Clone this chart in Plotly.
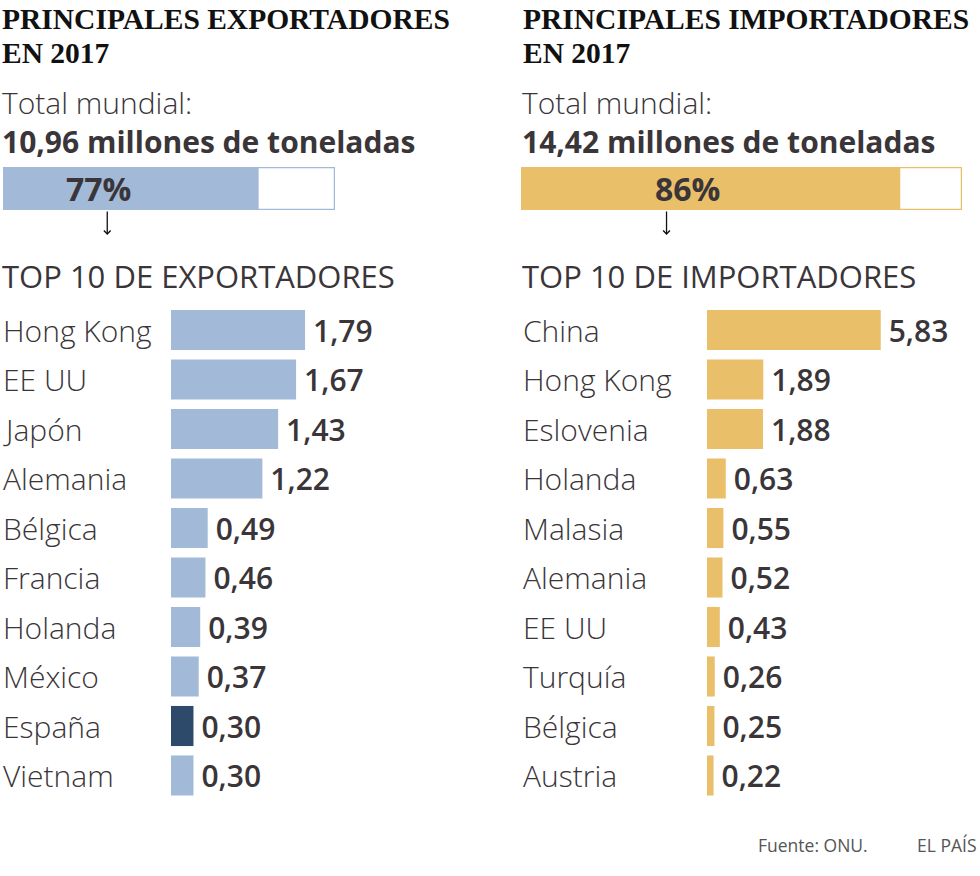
import plotly.graph_objects as go

# ---- data ----
exp_countries = ["Hong Kong", "EE UU", "Japón", "Alemania", "Bélgica", "Francia",
                 "Holanda", "México", "España", "Vietnam"]
exp_values = [1.79, 1.67, 1.43, 1.22, 0.49, 0.46, 0.39, 0.37, 0.30, 0.30]
imp_countries = ["China", "Hong Kong", "Eslovenia", "Holanda", "Malasia", "Alemania",
                 "EE UU", "Turquía", "Bélgica", "Austria"]
imp_values = [5.83, 1.89, 1.88, 0.63, 0.55, 0.52, 0.43, 0.26, 0.25, 0.22]
exp_share = 77
imp_share = 86
exp_total = "10,96"
imp_total = "14,42"

BLUE = "#a2bad8"
NAVY = "#2e4a6b"
GOLD = "#e9bf6a"
TXT = "#3a3539"
SANS = "Open Sans"
SERIF = "Liberation Serif"
W, H = 980, 876

def px_x(p):
    return p / W

def px_y(p):
    return 1 - p / H

fig = go.Figure()

exp_colors = [NAVY if c == "España" else BLUE for c in exp_countries]

fig.add_trace(go.Bar(
    x=exp_values, y=exp_countries, orientation="h",
    marker=dict(color=exp_colors, line=dict(width=0)),
    width=0.81, texttemplate="\u2009%{x:.2f}",
    textposition="outside", constraintext="none", cliponaxis=False,
    textfont=dict(family=SANS, size=30, color=TXT, weight=600),
    xaxis="x", yaxis="y", hoverinfo="skip"))

fig.add_trace(go.Bar(
    x=imp_values, y=imp_countries, orientation="h",
    marker=dict(color=GOLD, line=dict(width=0)),
    width=0.81, texttemplate="\u2009%{x:.2f}",
    textposition="outside", constraintext="none", cliponaxis=False,
    textfont=dict(family=SANS, size=30, color=TXT, weight=600),
    xaxis="x2", yaxis="y2", hoverinfo="skip"))

# progress bars
for share, color, xa, ya in [(exp_share, BLUE, "x3", "y3"), (imp_share, GOLD, "x4", "y4")]:
    fig.add_trace(go.Bar(x=[100], y=[0], orientation="h", width=1,
                         marker=dict(color="white", line=dict(color=color, width=2.5)),
                         xaxis=xa, yaxis=ya, hoverinfo="skip"))
    fig.add_trace(go.Bar(x=[share], y=[0], orientation="h", width=1,
                         marker=dict(color=color, line=dict(width=0)),
                         xaxis=xa, yaxis=ya, hoverinfo="skip"))

top_y, bot_y = 305.25, 800.25
ax_common = dict(showgrid=False, zeroline=False, showticklabels=False, showline=False, fixedrange=True)
fig.update_layout(
    width=W, height=H, margin=dict(l=0, r=0, t=0, b=0),
    paper_bgcolor="white", plot_bgcolor="rgba(0,0,0,0)",
    showlegend=False, barmode="overlay", separators=",.",
    xaxis=dict(domain=[px_x(171), px_x(400)], range=[0, 229 / 74.9], anchor="y", **ax_common),
    yaxis=dict(domain=[px_y(bot_y), px_y(top_y)], type="category", range=[9.5, -0.5], anchor="x", **ax_common),
    xaxis2=dict(domain=[px_x(707), px_x(970)], range=[0, 263 / 29.8], anchor="y2", **ax_common),
    yaxis2=dict(domain=[px_y(bot_y), px_y(top_y)], type="category", range=[9.5, -0.5], anchor="x2", **ax_common),
    xaxis3=dict(domain=[px_x(3), px_x(335)], range=[0, 100], anchor="y3", **ax_common),
    yaxis3=dict(domain=[px_y(210), px_y(167)], range=[-0.5, 0.5], anchor="x3", **ax_common),
    xaxis4=dict(domain=[px_x(521), px_x(962)], range=[0, 100], anchor="y4", **ax_common),
    yaxis4=dict(domain=[px_y(210), px_y(167)], range=[-0.5, 0.5], anchor="x4", **ax_common),
)

ann = []
def text(x, y, s, size, family=SANS, color=TXT, weight=400, xanchor="left"):
    ann.append(dict(x=x, y=y, xref="paper", yref="paper", text=s, showarrow=False,
                    xanchor=xanchor, yanchor="middle", align="left",
                    font=dict(family=family, size=size, color=color, weight=weight)))

for x0, word in [(0, "EXPORTADORES"), (521, "IMPORTADORES")]:
    text(px_x(x0), px_y(19), f"PRINCIPALES {word}", 29.5, SERIF, "#111111", 700)
    text(px_x(x0), px_y(53), "EN 2017", 29.5, SERIF, "#111111", 700)
for x0, tot, word in [(0, exp_total, "EXPORTADORES"), (520, imp_total, "IMPORTADORES")]:
    text(px_x(x0), px_y(122.5),
         f"<span style='font-weight:300'>Total mundial:</span><br><b>{tot} millones de toneladas</b>",
         30, SANS, TXT, 400)
    text(px_x(x0), px_y(276), f"TOP 10 DE {word}", 31, SANS, TXT, 400)

# category labels
for c in exp_countries:
    ann.append(dict(x=px_x(1), y=c, xref="paper", yref="y", text=c, showarrow=False,
                    xanchor="left", yanchor="middle",
                    font=dict(family=SANS, size=30, color=TXT, weight=300)))
for c in imp_countries:
    ann.append(dict(x=px_x(521), y=c, xref="paper", yref="y2", text=c, showarrow=False,
                    xanchor="left", yanchor="middle",
                    font=dict(family=SANS, size=30, color=TXT, weight=300)))

# percent labels
ann.append(dict(x=28.7, y=0, xref="x3", yref="y3", text=f"<b>{exp_share}%</b>", showarrow=False,
                font=dict(family=SANS, size=32, color=TXT)))
ann.append(dict(x=37.8, y=0, xref="x4", yref="y4", text=f"<b>{imp_share}%</b>", showarrow=False,
                font=dict(family=SANS, size=32, color=TXT)))
# arrows
for xv, xr in [(31.4, "x3"), (33.0, "x4")]:
    ann.append(dict(x=xv, y=px_y(235), xref=xr, yref="paper", text="", showarrow=True,
                    ax=0, ay=-25, arrowhead=4, arrowsize=1, arrowwidth=1.3, arrowcolor="#111111"))

# footer
text(px_x(870), px_y(845), "Fuente: ONU.", 17.5, SANS, "#555555", 400, "right")
text(px_x(978), px_y(845), "EL PAÍS", 17.5, SANS, "#555555", 400, "right")

fig.update_layout(annotations=ann)
fig.write_html("out.html", config={"displayModeBar": False},
               post_script="document.body.style.margin='0px';document.body.style.padding='0px';")
